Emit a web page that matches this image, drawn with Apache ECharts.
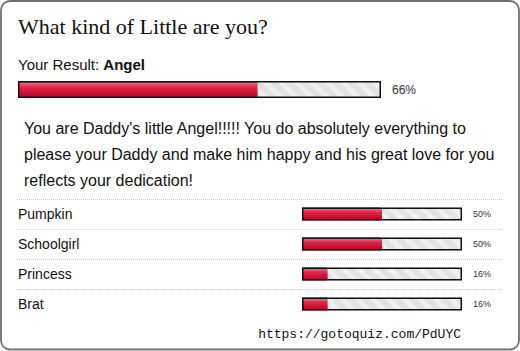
<!DOCTYPE html>
<html>
<head>
<meta charset="utf-8">
<title>What kind of Little are you?</title>
<script src="https://cdn.jsdelivr.net/npm/echarts@6/dist/echarts.min.js"></script>
<style>html,body{margin:0;padding:0;background:#fff}</style>
</head>
<body>
<div id="main" style="width:520px;height:351px;"></div>
<script>
// quiz data
var quizTitle = 'What kind of Little are you?';
var resultName = 'Angel';
var resultScore = [66];
var resultText = "You are Daddy's little Angel!!!!! You do absolutely everything to\nplease your Daddy and make him happy and his great love for you\nreflects your dedication!";
var categories = ['Pumpkin', 'Schoolgirl', 'Princess', 'Brat'];
var scores = [50, 50, 16, 16];
var fullScore = 100;
var quizUrl = 'https://gotoquiz.com/PdUYC';

var sans = '"Liberation Sans", Arial, sans-serif';

var myChart = echarts.init(document.getElementById('main'), null, {renderer: 'svg'});

// glossy red fill
var redFill = new echarts.graphic.LinearGradient(0, 0, 0, 1, [
    {offset: 0, color: '#b3102e'},
    {offset: 0.15, color: '#e2657a'},
    {offset: 0.35, color: '#e0294b'},
    {offset: 0.7, color: '#cf0f35'},
    {offset: 1, color: '#a90a28'}
]);

// diagonal stripes on the empty track
var stripes = {
    symbol: 'rect',
    symbolSize: 1,
    color: 'rgba(255,255,255,0.45)',
    dashArrayX: [1, 0],
    dashArrayY: [5, 6],
    rotation: Math.PI / 4
};

function trackSeries(axisIdx, data, barWidth) {
    return {
        type: 'bar', xAxisIndex: axisIdx, yAxisIndex: axisIdx,
        data: data, barWidth: barWidth, barGap: '-100%', silent: true,
        itemStyle: {color: '#e2e2e2', decal: stripes}
    };
}
function fillSeries(axisIdx, data, barWidth) {
    return {
        type: 'bar', xAxisIndex: axisIdx, yAxisIndex: axisIdx,
        data: data, barWidth: barWidth, barGap: '-100%', silent: true,
        itemStyle: {color: redFill, borderRadius: [0, 2, 2, 0]}
    };
}
function frameSeries(axisIdx, data, barWidth, labels, fontSize) {
    return {
        type: 'bar', xAxisIndex: axisIdx, yAxisIndex: axisIdx,
        data: data, barWidth: barWidth, barGap: '-100%', silent: true,
        itemStyle: {color: 'rgba(0,0,0,0)', borderColor: '#111', borderWidth: 1.5},
        label: {
            show: true, position: 'right', distance: 11,
            fontFamily: sans, fontSize: fontSize, color: '#333',
            formatter: function (p) { return labels[p.dataIndex] + '%'; }
        }
    };
}

var fullMain = resultScore.map(function () { return fullScore; });
var fullRows = scores.map(function () { return fullScore; });

var option = {
    animation: false,
    graphic: [
        {type: 'rect', z: -10, shape: {x: 1, y: 1, width: 518, height: 348.5, r: 9},
         style: {fill: '#fff', stroke: '#707070', lineWidth: 1.8}},
        {type: 'text', x: 18, y: 26, style: {text: quizTitle, font: '22px "Liberation Serif", "Times New Roman", serif',
            fill: '#111', verticalAlign: 'middle'}},
        {type: 'text', x: 18, y: 64, style: {text: '{n|Your Result: }{b|' + resultName + '}', verticalAlign: 'middle',
            rich: {n: {fontFamily: sans, fontSize: 15, fill: '#111'}, b: {fontFamily: sans, fontSize: 15, fontWeight: 'bold', fill: '#111'}}}},
        {type: 'text', x: 24, y: 115, style: {text: resultText, font: '16px ' + sans, lineHeight: 26, fill: '#111'}},
        {type: 'text', x: 461, y: 334, style: {text: quizUrl, font: '13px "Liberation Mono", "DejaVu Sans Mono", monospace',
            fill: '#111', align: 'right', verticalAlign: 'middle'}}
    ],
    grid: [
        {left: 18, top: 81, width: 363, height: 17},
        {left: 17, top: 199, width: 486, height: 120}
    ],
    xAxis: [
        {gridIndex: 0, type: 'value', min: 0, max: fullScore, show: false},
        {gridIndex: 1, type: 'value', min: -178.125, max: 125.625, show: false}
    ],
    yAxis: [
        {gridIndex: 0, type: 'category', data: [resultName], show: false},
        {
            gridIndex: 1, type: 'category', data: categories, inverse: true,
            axisLine: {show: false}, axisTick: {show: false},
            axisLabel: {margin: -1, align: 'left', fontFamily: sans, fontSize: 14, color: '#111'},
            splitLine: {show: true, showMaxLine: false, lineStyle: {type: 'dotted', color: '#c8c8c8', width: 1}}
        }
    ],
    series: [
        trackSeries(0, fullMain, 17),
        fillSeries(0, resultScore, 17),
        frameSeries(0, fullMain, 17, resultScore, 12),
        trackSeries(1, fullRows, 13),
        fillSeries(1, scores, 13),
        frameSeries(1, fullRows, 13, scores, 9)
    ]
};

myChart.setOption(option);
</script>
</body>
</html>
